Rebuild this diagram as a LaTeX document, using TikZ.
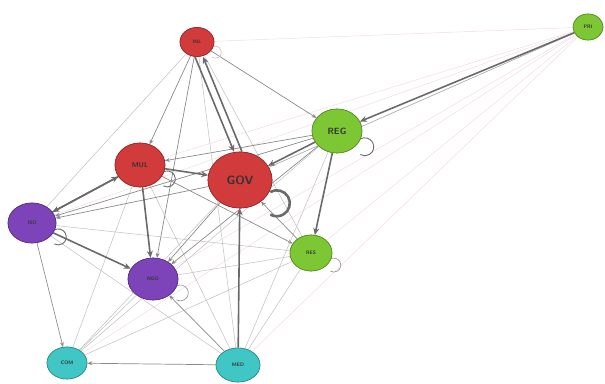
\documentclass[tikz,border=0pt]{standalone}
\usetikzlibrary{arrows.meta,shapes.geometric}
\definecolor{nred}{HTML}{D23B3B}
\definecolor{ngreen}{HTML}{7CC733}
\definecolor{npurple}{HTML}{7C44B8}
\definecolor{nteal}{HTML}{40C6C4}
\definecolor{edgegray}{HTML}{8A8A8A}
\definecolor{darkgray}{HTML}{6A6A6A}
\definecolor{faint}{HTML}{F0DDE2}
\begin{document}
\begin{tikzpicture}[x=1pt,y=-1pt,
  nd/.style={ellipse,draw,line width=0.6pt,inner sep=0pt,font=\sffamily\bfseries\tiny,text=black!80},
  rednd/.style={nd,fill=nred,draw=nred!70!black},
  grnnd/.style={nd,fill=ngreen,draw=ngreen!70!black},
  purnd/.style={nd,fill=npurple,draw=npurple!70!black},
  tealnd/.style={nd,fill=nteal,draw=nteal!70!black},
  e/.style={draw=edgegray,line width=0.7pt,-{Stealth[length=5pt,width=4pt]}},
  ep/.style={draw=edgegray!55,line width=0.5pt},
  et/.style={draw=darkgray,line width=1.6pt,-{Stealth[length=7pt,width=6pt]}},
  ef/.style={draw=faint,line width=0.5pt},
  loopst/.style={draw=darkgray,line width=0.9pt}
]
\useasboundingbox (0,0) rectangle (605,383);
% nodes
\node[rednd,minimum width=34pt,minimum height=29pt] (INL) at (197,42) {INL};
\node[grnnd,minimum width=30pt,minimum height=26pt] (PRI) at (588,27) {PRI};
\node[grnnd,minimum width=50pt,minimum height=44pt,font=\sffamily\bfseries\small] (REG) at (337,131) {REG};
\node[rednd,minimum width=50pt,minimum height=44pt,font=\sffamily\bfseries\scriptsize] (MUL) at (140,165) {MUL};
\node[rednd,minimum width=64pt,minimum height=56pt,font=\sffamily\bfseries\large] (GOV) at (240,180) {GOV};
\node[purnd,minimum width=48pt,minimum height=40pt] (ISO) at (32,223) {ISO};
\node[grnnd,minimum width=42pt,minimum height=36pt] (RES) at (311,253) {RES};
\node[purnd,minimum width=50pt,minimum height=42pt] (NGO) at (153,279) {NGO};
\node[tealnd,minimum width=40pt,minimum height=32pt] (COM) at (67,363) {COM};
\node[tealnd,minimum width=44pt,minimum height=34pt] (MED) at (238,365) {MED};
% faint edges from PRI
\foreach \t in {INL,MUL,GOV,ISO,RES,NGO,MED,COM}{\path[ef] (PRI) -- (\t);}
\path[draw=edgegray!70,line width=0.6pt] (PRI) -- (GOV);
% thin edges
\path[ep] (INL) -- (ISO);
\path[e] (INL) -- (MUL);
\path[e] (INL) -- (NGO);
\path[e] (INL) -- (REG);
\path[ep] (INL) -- (RES);
\path[e] (MUL) -- (RES);
\path[e] (REG) -- (MUL);
\path[ep] (MUL) -- (COM);
\path[ep] (MUL) -- (MED);
\path[e] (GOV) -- (NGO);
\path[e] (GOV) -- (ISO);
\path[ep] (GOV) -- (COM);
\path[e] (REG) -- (ISO);
\path[e] (REG) -- (NGO);
\path[ep] (REG) -- (COM);
\path[ep] (REG) -- (MED);
\path[e] (ISO) -- (COM);
\path[ep] (ISO) -- (RES);
\path[ep] (ISO) -- (MED);
\path[e] (RES) -- (GOV);
\path[ep] (RES) -- (NGO);
\path[ep] (RES) -- (COM);
\path[ep] (RES) -- (MED);
\path[ep] (NGO) -- (COM);
\path[e] (MED) -- (COM);
\path[e] (MED) -- (NGO);
\path[ep] (INL) -- (MED);
% thick edges
\path[et] (PRI) -- (REG);
\path[et] ([xshift=-2pt]INL.south) -- ([xshift=-6pt]GOV.north);
\path[et] ([xshift=2pt]GOV.north) -- ([xshift=6pt]INL.south);
\path[et] (MUL) -- (GOV);
\path[et] (REG) -- (GOV);
\path[et] (REG) -- (RES);
\path[et] (MUL) -- (NGO);
\path[et] (ISO) -- (MUL);
\path[et] (MUL) -- (ISO);
\path[et] (ISO) -- (NGO);
\path[et] (MED) -- (GOV);
% self loops
\draw[draw=darkgray,line width=2.6pt] ([shift={(-2pt,-12pt)}]GOV.east) arc[start angle=120,end angle=-120,radius=13pt];
\draw[loopst] ([shift={(-2pt,-8pt)}]REG.east) arc[start angle=120,end angle=-120,radius=9pt];
\draw[loopst] ([shift={(-2pt,-7pt)}]MUL.east) arc[start angle=120,end angle=-120,radius=8pt];
\draw[loopst] ([shift={(-2pt,-7pt)}]ISO.east) arc[start angle=120,end angle=-120,radius=8pt];
\draw[draw=edgegray,line width=0.6pt] ([shift={(-2pt,-6pt)}]RES.east) arc[start angle=120,end angle=-120,radius=7pt];
\draw[draw=edgegray,line width=0.6pt] ([shift={(-2pt,-7pt)}]NGO.east) arc[start angle=120,end angle=-120,radius=8pt];
\draw[draw=edgegray!60,line width=0.5pt] ([shift={(-2pt,-5pt)}]INL.east) arc[start angle=120,end angle=-120,radius=6pt];
% redraw nodes on top
\foreach \n/\s/\w/\h/\f/\x/\y in {INL/rednd/34/29/\tiny/197/42, PRI/grnnd/30/26/\tiny/588/27, REG/grnnd/50/44/\small/337/131, MUL/rednd/50/44/\scriptsize/140/165, GOV/rednd/64/56/\large/240/180, ISO/purnd/48/40/\tiny/32/223, RES/grnnd/42/36/\tiny/311/253, NGO/purnd/50/42/\tiny/153/279, COM/tealnd/40/32/\tiny/67/363, MED/tealnd/44/34/\tiny/238/365}{
  \node[\s,minimum width=\w pt,minimum height=\h pt,font=\sffamily\bfseries\f] at (\x,\y) {\n};
}
\end{tikzpicture}
\end{document}
